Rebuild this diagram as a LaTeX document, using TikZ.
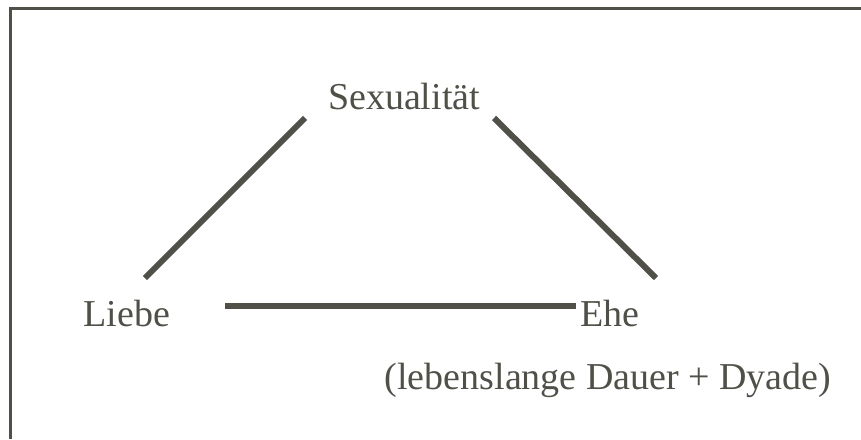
\documentclass[tikz,border=0pt]{standalone}
\usepackage{fontspec}
\setmainfont{Liberation Serif}
\definecolor{dunkelgrau}{RGB}{80,80,72}
\begin{document}
\begin{tikzpicture}[x=1pt,y=-1pt,
  begriff/.style={text=dunkelgrau,font=\fontsize{38}{42}\selectfont,inner sep=0pt},
  kante/.style={draw=dunkelgrau,line width=6pt}]
\useasboundingbox (0,0) rectangle (861,439);
\draw[dunkelgrau,line width=3pt] (10,439)--(10,8)--(861,8);
\node[begriff] (sex) at (404,97) {Sexualität};
\node[begriff] (liebe) at (127,313) {Liebe};
\node[begriff] (ehe) at (610,313) {Ehe};
\node[begriff] (dauer) at (608,380) {(lebenslange Dauer + Dyade)};
\coordinate (a1) at (145,278);
\coordinate (a2) at (305,118);
\coordinate (b1) at (494,118);
\coordinate (b2) at (656,278);
\coordinate (c1) at (225,306);
\coordinate (c2) at (576,306);
\draw[kante] (a1)--(a2);
\draw[kante] (b1)--(b2);
\draw[kante] (c1)--(c2);
\end{tikzpicture}
\end{document}
